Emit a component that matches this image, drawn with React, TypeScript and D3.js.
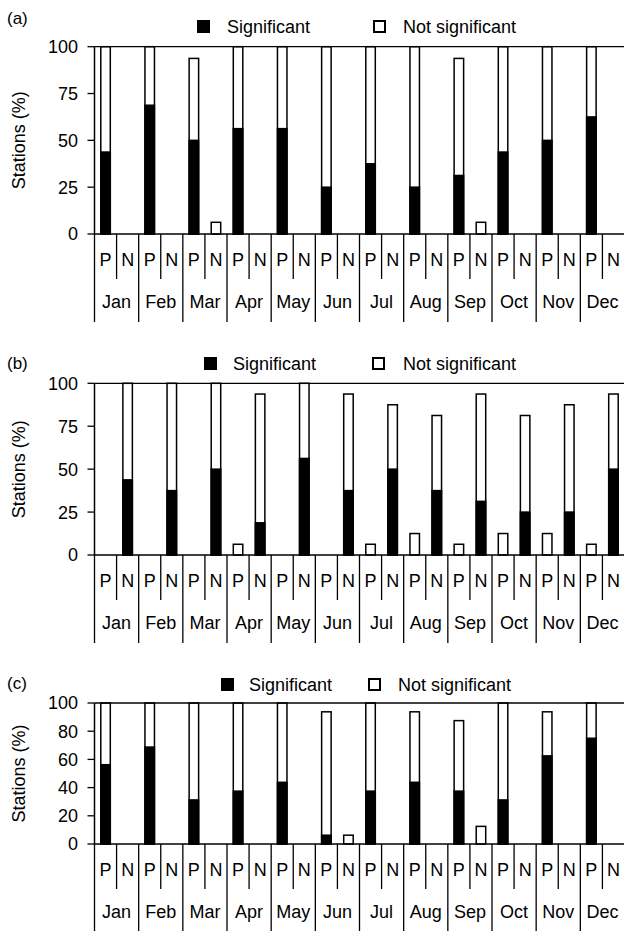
import React, { useRef, useEffect, useCallback } from 'react'
import * as d3 from 'd3'

// categories
const months = ['Jan', 'Feb', 'Mar', 'Apr', 'May', 'Jun', 'Jul', 'Aug', 'Sep', 'Oct', 'Nov', 'Dec']
const trends = ['P', 'N']
const legendLabels = ['Significant', 'Not significant']

// panel (a): % of stations, significant part and total, for P and N trends
const sigPA = [43.75, 68.75, 50, 56.25, 56.25, 25, 37.5, 25, 31.25, 43.75, 50, 62.5]
const totPA = [100, 100, 93.75, 100, 100, 100, 100, 100, 93.75, 100, 100, 100]
const sigNA = [0, 0, 0, 0, 0, 0, 0, 0, 0, 0, 0, 0]
const totNA = [0, 0, 6.25, 0, 0, 0, 0, 0, 6.25, 0, 0, 0]

// panel (b)
const sigPB = [0, 0, 0, 0, 0, 0, 0, 0, 0, 0, 0, 0]
const totPB = [0, 0, 0, 6.25, 0, 0, 6.25, 12.5, 6.25, 12.5, 12.5, 6.25]
const sigNB = [43.75, 37.5, 50, 18.75, 56.25, 37.5, 50, 37.5, 31.25, 25, 25, 50]
const totNB = [100, 100, 100, 93.75, 100, 93.75, 87.5, 81.25, 93.75, 81.25, 87.5, 93.75]

// panel (c)
const sigPC = [56.25, 68.75, 31.25, 37.5, 43.75, 6.25, 37.5, 43.75, 37.5, 31.25, 62.5, 75]
const totPC = [100, 100, 100, 100, 100, 93.75, 100, 93.75, 87.5, 100, 93.75, 100]
const sigNC = [0, 0, 0, 0, 0, 0, 0, 0, 0, 0, 0, 0]
const totNC = [0, 0, 0, 0, 0, 6.25, 0, 0, 12.5, 0, 0, 0]

const ticksAB = [0, 25, 50, 75, 100]
const ticksC = [0, 20, 40, 60, 80, 100]

const W = 624
const H = 931
const FONT = "'Liberation Sans', Arial, sans-serif"

const panels = [
    { name: '(a)', sigP: sigPA, totP: totPA, sigN: sigNA, totN: totNA, ticks: ticksAB,
      top: 46.7, bottom: 234, labelY: 24, legendY: 33, sq1: 197, t1: 227, sq2: 373, t2: 403 },
    { name: '(b)', sigP: sigPB, totP: totPB, sigN: sigNB, totN: totNB, ticks: ticksAB,
      top: 383.3, bottom: 555, labelY: 369, legendY: 370, sq1: 204, t1: 233, sq2: 372, t2: 403 },
    { name: '(c)', sigP: sigPC, totP: totPC, sigN: sigNC, totN: totNC, ticks: ticksC,
      top: 703, bottom: 844, labelY: 689, legendY: 691, sq1: 221, t1: 249, sq2: 368, t2: 398 },
]

const App = () => {
    const chartRef = useRef<HTMLDivElement>(null)

    const drawChart = useCallback(() => {
        if (!chartRef.current) return
        const svg = d3.select(chartRef.current)
            .append('svg')
            .attr('width', W)
            .attr('height', H)
            .style('position', 'absolute')
            .style('left', 0)
            .style('top', 0)
            .style('background', '#fff')
            .attr('font-family', FONT)

        const x = d3.scaleBand().domain(months).range([94.5, 624.5])
        const sub = d3.scaleBand().domain(trends).range([0, x.bandwidth()])
        const barW = sub.bandwidth() * 0.43
        const x0 = x.range()[0]

        panels.forEach((p) => {
            const y = d3.scaleLinear().domain([0, 100]).range([p.bottom, p.top])
            const g = svg.append('g')

            const rows = months.flatMap((m, i) => trends.map((t) => ({
                m, t,
                sig: t === 'P' ? p.sigP[i] : p.sigN[i],
                tot: t === 'P' ? p.totP[i] : p.totN[i],
            }))).filter((d) => d.tot > 0)

            const bx = (d) => (x(d.m) as number) + (sub(d.t) as number) + (sub.bandwidth() - barW) / 2

            // total (not significant on top), outlined
            g.selectAll('rect.tot').data(rows).join('rect')
                .attr('class', 'tot')
                .attr('x', bx)
                .attr('y', (d) => y(d.tot))
                .attr('width', barW)
                .attr('height', (d) => y(0) - y(d.tot))
                .attr('fill', '#fff')
                .attr('stroke', '#000')
                .attr('stroke-width', 1.5)

            // significant part
            g.selectAll('rect.sig').data(rows.filter((d) => d.sig > 0)).join('rect')
                .attr('class', 'sig')
                .attr('x', bx)
                .attr('y', (d) => y(d.sig))
                .attr('width', barW)
                .attr('height', (d) => y(0) - y(d.sig))
                .attr('fill', '#000')
                .attr('stroke', '#000')
                .attr('stroke-width', 1.5)

            // frame top + axes
            g.append('line').attr('x1', x0).attr('x2', W).attr('y1', y(100)).attr('y2', y(100))
                .attr('stroke', '#000').attr('stroke-width', 1.3)
            g.append('line').attr('x1', x0).attr('x2', W).attr('y1', y(0)).attr('y2', y(0))
                .attr('stroke', '#000').attr('stroke-width', 1.5)
            g.append('line').attr('x1', x0).attr('x2', x0).attr('y1', y(100)).attr('y2', y(0))
                .attr('stroke', '#000').attr('stroke-width', 1.5)

            g.selectAll('line.ytick').data(p.ticks).join('line')
                .attr('class', 'ytick')
                .attr('x1', x0 - 7).attr('x2', x0)
                .attr('y1', (d) => y(d)).attr('y2', (d) => y(d))
                .attr('stroke', '#000').attr('stroke-width', 1.3)
            g.selectAll('text.ytick').data(p.ticks).join('text')
                .attr('class', 'ytick')
                .attr('x', 78)
                .attr('y', (d) => y(d))
                .attr('dy', '0.36em')
                .attr('text-anchor', 'end')
                .attr('font-size', 18)
                .text((d) => d)

            g.append('text')
                .attr('transform', `translate(25, ${(p.top + p.bottom) / 2}) rotate(-90)`)
                .attr('text-anchor', 'middle')
                .attr('font-size', 18)
                .text('Stations (%)')

            // category axis: month and P/N separators
            g.selectAll('line.msep').data(months).join('line')
                .attr('class', 'msep')
                .attr('x1', (d) => x(d)).attr('x2', (d) => x(d))
                .attr('y1', y(0)).attr('y2', p.bottom + 88)
                .attr('stroke', '#000').attr('stroke-width', 1.3)
            g.selectAll('line.tsep').data(months).join('line')
                .attr('class', 'tsep')
                .attr('x1', (d) => (x(d) as number) + (sub('N') as number))
                .attr('x2', (d) => (x(d) as number) + (sub('N') as number))
                .attr('y1', y(0)).attr('y2', p.bottom + 45)
                .attr('stroke', '#000').attr('stroke-width', 1.3)

            g.selectAll('text.trend').data(months.flatMap((m) => trends.map((t) => ({ m, t })))).join('text')
                .attr('class', 'trend')
                .attr('x', (d) => (x(d.m) as number) + (sub(d.t) as number) + sub.bandwidth() / 2)
                .attr('y', p.bottom + 32)
                .attr('text-anchor', 'middle')
                .attr('font-size', 18)
                .text((d) => d.t)

            g.selectAll('text.month').data(months).join('text')
                .attr('class', 'month')
                .attr('x', (d) => (x(d) as number) + x.bandwidth() / 2)
                .attr('y', p.bottom + 74)
                .attr('text-anchor', 'middle')
                .attr('font-size', 18)
                .text((d) => d)

            // panel label + legend
            g.append('text').attr('x', 7).attr('y', p.labelY).attr('font-size', 17).text(p.name)

            g.append('rect').attr('x', p.sq1).attr('y', p.legendY - 13).attr('width', 13).attr('height', 13)
                .attr('fill', '#000')
            g.append('text').attr('x', p.t1).attr('y', p.legendY).attr('font-size', 18).text(legendLabels[0])
            g.append('rect').attr('x', p.sq2 + 1).attr('y', p.legendY - 12).attr('width', 11).attr('height', 11)
                .attr('fill', '#fff').attr('stroke', '#000').attr('stroke-width', 2)
            g.append('text').attr('x', p.t2).attr('y', p.legendY).attr('font-size', 18).text(legendLabels[1])
        })
    }, [])

    const destroyChart = useCallback(() => {
        if (chartRef.current) {
            d3.select(chartRef.current).select('svg').remove()
        }
    }, [])

    useEffect(() => {
        drawChart()
        return () => destroyChart()
    }, [drawChart, destroyChart])

    return <div ref={chartRef} style={{ width: W, height: H }}></div>
}

export default App
